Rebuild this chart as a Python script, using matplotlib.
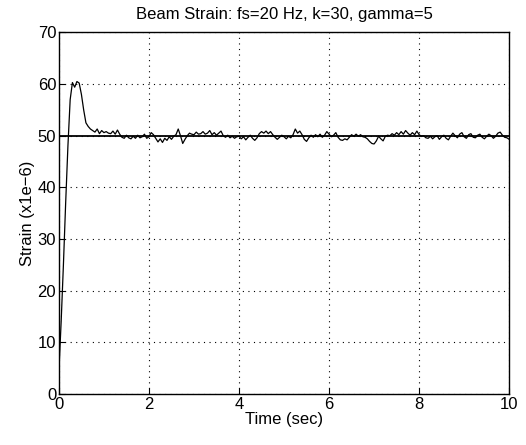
import numpy as np
import matplotlib.pyplot as plt

plt.rcParams['font.family'] = ['Liberation Sans', 'DejaVu Sans']

# sample rate and target strain
fs = 20
target = 50

strain = [
    4.5, 14, 25, 37, 48, 57, 60.3, 59.4, 60.5, 60.2, 58, 55, 52.5, 51.8, 51.3, 51, 50.7, 51.3, 50.4, 51.0,
    50.6, 50.8, 50.5, 50.4, 50.9, 50.3, 51.1, 50.3, 49.7, 49.5, 50.1, 49.6, 49.4, 49.9, 49.5, 50.1, 49.6, 49.8, 50.3, 49.5,
    49.8, 50.6, 50.2, 49.5, 48.8, 49.4, 48.7, 49.5, 49.1, 49.8, 49.3, 49.9, 50.2, 51.3, 50.0, 48.5, 49.3, 50.0, 50.5, 50.3,
    50.2, 50.7, 50.3, 50.4, 50.8, 50.3, 50.5, 51.0, 50.2, 50.6, 50.1, 50.5, 50.9, 50.0, 49.7, 50.1, 49.6, 49.9, 49.5, 49.8,
    49.9, 49.4, 49.8, 49.2, 49.7, 50.1, 49.5, 49.1, 49.6, 50.4, 50.8, 50.5, 50.9, 50.4, 50.8, 50.2, 49.7, 49.3, 49.7, 50.1,
    49.8, 49.4, 49.9, 49.6, 50.2, 51.3, 50.5, 50.9, 50.2, 49.3, 48.9, 49.6, 50.1, 49.7, 50.2, 49.8, 50.3, 49.7, 50.1, 50.8,
    50.3, 49.8, 50.1, 50.6, 49.7, 49.2, 49.1, 49.4, 49.2, 49.7, 50.2, 49.9, 50.3, 49.9, 50.2, 49.8, 49.7, 49.4, 48.9, 48.5,
    48.4, 49.0, 49.9, 49.4, 49.0, 49.9, 50.1, 50.0, 50.4, 50.1, 50.6, 50.2, 50.8, 50.3, 51.0, 50.5, 50.1, 50.6, 50.2, 50.9,
    50.2, 49.9, 50.0, 49.6, 49.5, 49.9, 49.4, 49.8, 50.0, 49.3, 49.8, 50.1, 49.5, 49.2, 49.9, 50.5, 50.0, 49.6, 50.3, 50.6,
    49.8, 49.5, 50.2, 50.4, 49.7, 49.6, 50.1, 50.3, 49.7, 49.4, 49.9, 50.3, 50.0, 49.5, 49.9, 50.5, 50.7, 50.1, 49.7, 49.6, 49.3,
]
t = np.arange(len(strain)) / fs

xticks = [0, 2, 4, 6, 8, 10]
yticks = [0, 10, 20, 30, 40, 50, 60, 70]

fig = plt.figure(figsize=(5.26, 4.45), dpi=100)
ax = fig.add_axes([0.112, 0.115, 0.856, 0.812])

ax.plot([t[0], t[-1]], [target, target], color='k', lw=1.3)
ax.plot(t, strain, color='k', lw=0.9)

ax.set_xlim(0, 10)
ax.set_ylim(0, 70)
ax.set_xticks(xticks)
ax.set_yticks(yticks)
ax.tick_params(direction='in', length=4, labelsize=12, pad=2)
ax.grid(True, color='k', linestyle=(0, (1, 4)), linewidth=0.8)
for s in ax.spines.values():
    s.set_linewidth(1.0)

ax.set_xlabel('Time (sec)', fontsize=12, labelpad=0)
ax.set_ylabel('Strain (x1e\u22126)', fontsize=12, labelpad=2)
ax.set_title('Beam Strain: fs=20 Hz, k=30, gamma=5', fontsize=12, pad=10)

fig.savefig('out.png', dpi=100)
